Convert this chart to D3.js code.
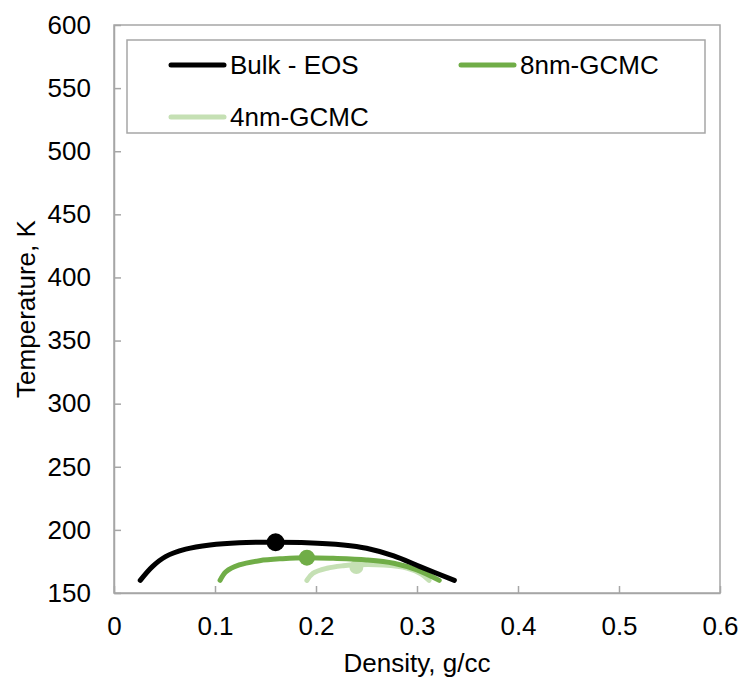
<!DOCTYPE html>
<html>
<head>
<meta charset="utf-8">
<script src="https://cdn.jsdelivr.net/npm/d3@7"></script>
<style>
  body { margin: 0; background: #fff; }
  text { font-family: "Liberation Sans", Arial, sans-serif; fill: #000; }
</style>
</head>
<body>
<div class="container"></div>
<script>
// density (g/cc), temperature (K)
const bulkX = [0.026, 0.038, 0.051, 0.071, 0.095, 0.124, 0.160, 0.191, 0.227, 0.250, 0.277, 0.303, 0.337];
const bulkY = [160, 170.9, 178.8, 184.7, 188.1, 189.9, 190.2, 189.9, 188.1, 185.5, 179.4, 170.9, 160];
const nm8X = [0.105, 0.111, 0.124, 0.144, 0.167, 0.191, 0.217, 0.250, 0.277, 0.300, 0.322];
const nm8Y = [160, 166.9, 172.2, 175.6, 177.2, 178, 177.5, 176.2, 173.6, 168.3, 160];
const nm4X = [0.191, 0.197, 0.211, 0.227, 0.240, 0.267, 0.290, 0.303, 0.312];
const nm4Y = [160, 165.6, 169.6, 171.6, 172.4, 172.2, 169.8, 165.6, 160];
const critX = [0.160, 0.191, 0.240];
const critY = [190.2, 178, 170.6];
const seriesNames = ["Bulk - EOS", "8nm-GCMC", "4nm-GCMC"];
const xTicks = [0, 0.1, 0.2, 0.3, 0.4, 0.5, 0.6];
const yTicks = [150, 200, 250, 300, 350, 400, 450, 500, 550, 600];

const colors = ["#000000", "#70AD47", "#C5E0B4"];
const width = 744, height = 682;
const margin = { top: 25, right: 24, bottom: 89, left: 114 };

let svg = d3.select(".container")
    .append("svg")
    .attr("width", width)
    .attr("height", height)

let xScale = d3.scaleLinear()
    .domain([0, 0.6])
    .range([margin.left, width - margin.right])

let yScale = d3.scaleLinear()
    .domain([150, 600])
    .range([height - margin.bottom, margin.top])

// plot area border
svg.append("rect")
    .attr("x", margin.left)
    .attr("y", margin.top)
    .attr("width", width - margin.right - margin.left)
    .attr("height", height - margin.bottom - margin.top)
    .attr("fill", "none")
    .attr("stroke", "#A6A6A6")
    .attr("stroke-width", 1.5)

let xAxis = svg.append("g")
    .attr("transform", `translate(0, ${height - margin.bottom})`)
    .call(d3.axisBottom(xScale).tickValues(xTicks).tickSizeInner(-7).tickSizeOuter(0).tickPadding(24)
        .tickFormat(d => d === 0 ? "0" : d3.format(".1f")(d)))

let yAxis = svg.append("g")
    .attr("transform", `translate(${margin.left}, 0)`)
    .call(d3.axisLeft(yScale).tickValues(yTicks).tickSizeInner(-7).tickSizeOuter(0).tickPadding(23))

for (let ax of [xAxis, yAxis]) {
    ax.select(".domain").attr("stroke", "#A6A6A6").attr("stroke-width", 1.5)
    ax.selectAll(".tick line").attr("stroke", "#A6A6A6").attr("stroke-width", 1.5)
    ax.selectAll(".tick text")
        .style("font-family", "Liberation Sans, Arial, sans-serif")
        .style("font-size", "26px")
        .attr("fill", "#000")
}

let line = d3.line()
    .x(d => xScale(d[0]))
    .y(d => yScale(d[1]))
    .curve(d3.curveCatmullRom)

let series = [
    d3.zip(bulkX, bulkY),
    d3.zip(nm8X, nm8Y),
    d3.zip(nm4X, nm4Y)
]

// draw the lighter curve first so darker ones sit on top
;[2, 1, 0].forEach(i => {
    svg.append("path")
        .datum(series[i])
        .attr("d", line)
        .attr("fill", "none")
        .attr("stroke", colors[i])
        .attr("stroke-width", 5)
        .attr("stroke-linecap", "round")
    svg.append("circle")
        .attr("cx", xScale(critX[i]))
        .attr("cy", yScale(critY[i]))
        .attr("r", [9, 8, 7][i])
        .attr("fill", colors[i])
})

// legend
svg.append("rect")
    .attr("x", 127)
    .attr("y", 40)
    .attr("width", 578)
    .attr("height", 93)
    .attr("fill", "#fff")
    .attr("stroke", "#A6A6A6")
    .attr("stroke-width", 1.5)

let legendPos = [[171, 65], [461, 65], [171, 117]]
seriesNames.forEach((name, i) => {
    let [lx, ly] = legendPos[i]
    svg.append("line")
        .attr("x1", lx).attr("x2", lx + 53)
        .attr("y1", ly).attr("y2", ly)
        .attr("stroke", colors[i])
        .attr("stroke-width", 5)
        .attr("stroke-linecap", "round")
    svg.append("text")
        .attr("x", lx + 59)
        .attr("y", ly)
        .attr("dy", "0.35em")
        .style("font-size", "26px")
        .text(name)
})

svg.append("text")
    .attr("x", (margin.left + width - margin.right) / 2)
    .attr("y", 672)
    .attr("text-anchor", "middle")
    .style("font-size", "26px")
    .text("Density, g/cc")

svg.append("text")
    .attr("transform", `translate(35, ${(margin.top + height - margin.bottom) / 2}) rotate(-90)`)
    .attr("text-anchor", "middle")
    .style("font-size", "26px")
    .text("Temperature, K")
</script>
</body>
</html>
